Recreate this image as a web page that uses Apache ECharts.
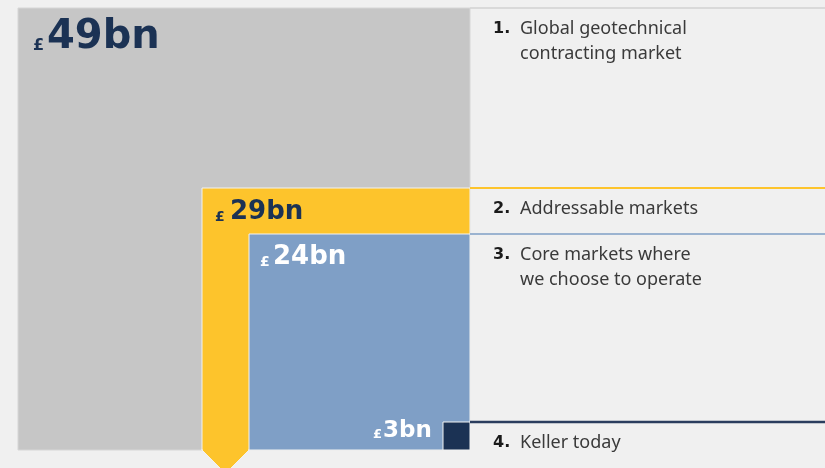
<!DOCTYPE html>
<html>
<head>
<meta charset="utf-8">
<script src="https://cdn.jsdelivr.net/npm/echarts@6/dist/echarts.min.js"></script>
<style>
html,body{margin:0;padding:0;background:#f0f0f0;}
#chart{width:825px;height:468px;}
</style>
</head>
<body>
<div id="chart"></div>
<script>
// Market tiers (nested boxes)
const categories = ['Global geotechnical\ncontracting market', 'Addressable markets', 'Core markets where\nwe choose to operate', 'Keller today'];
const tierNumbers = ['1.', '2.', '3.', '4.'];
const marketValues = [49, 29, 24, 3]; // £bn
// box extents in axis units (x: left edge, y: top edge; all boxes share right & bottom edge)
const boxLeft = [0, 184, 231, 425];
const boxTop = [442, 262, 216, 28];

const colors = ['#c6c6c6', '#fdc42c', '#7f9fc6', '#1b3254'];
const lineColors = ['#d2d2d2', '#fdc42c', '#7f9fc6', '#2a3d5e'];
const lineWidths = [1.5, 2, 1.5, 2.5];
const valueColors = ['#1b3254', '#1b3254', '#ffffff', '#ffffff'];
const numSize = [40, 26, 26, 23];
const poundSize = [16, 14, 14, 13];

const chart = echarts.init(document.getElementById('chart'));

function renderItem(params, api) {
  const i = params.dataIndex;
  const tl = api.coord([api.value(0), api.value(1)]);
  const br = api.coord([452, 0]);
  const x0 = tl[0], y0 = tl[1], x1 = br[0], y1 = br[1];
  const W = api.getWidth();
  const children = [];
  if (i === 1) {
    // downward arrow under the yellow strip
    const stripR = api.coord([boxLeft[2], 0])[0];
    children.push({
      type: 'polygon',
      shape: { points: [[x0, y1 - 1], [stripR, y1 - 1], [stripR, y1], [(x0 + stripR) / 2, y1 + (stripR - x0) / 2], [x0, y1]] },
      style: { fill: colors[i], stroke: '#f2f2f2', lineWidth: 1 }
    });
  }
  children.push({
    type: 'rect',
    shape: { x: x0, y: y0, width: x1 - x0, height: y1 - y0 },
    style: { fill: colors[i], stroke: i === 0 ? '#d6d6d6' : '#f2f2f2', lineWidth: 1 }
  });
  if (i === 1) {
    const stripR = api.coord([boxLeft[2], 0])[0];
    children.push({
      type: 'rect',
      shape: { x: x0 + 1, y: y1 - 2, width: stripR - x0 - 2, height: 3 },
      style: { fill: colors[i] }
    });
  }
  // right-side rule
  children.push({
    type: 'line',
    shape: { x1: x1, y1: y0, x2: W, y2: y0 },
    style: { stroke: lineColors[i], lineWidth: lineWidths[i] }
  });
  // value label
  const baseline = [52, 222, 267, 439][i] - [8, 188, 234, 422][i] + y0;
  const padP = [15, 13, 11, -70][i];
  const padN = [29, 28, 24, -60][i];
  children.push({
    type: 'text',
    style: {
      text: '£', x: x0 + padP, y: baseline - poundSize[i] * 0.36,
      fill: valueColors[i], font: 'bold ' + poundSize[i] + 'px "DejaVu Sans"',
      verticalAlign: 'middle', align: 'left'
    }
  });
  children.push({
    type: 'text',
    style: {
      text: marketValues[i] + 'bn', x: x0 + padN, y: baseline - numSize[i] * 0.36,
      fill: valueColors[i], font: 'bold ' + numSize[i] + 'px "DejaVu Sans"',
      verticalAlign: 'middle', align: 'left'
    }
  });
  // tier label
  children.push({
    type: 'text',
    style: {
      text: tierNumbers[i], x: x1 + 23, y: y0 + 21,
      fill: '#1a1a1a', font: 'bold 16px "DejaVu Sans"',
      verticalAlign: 'middle', align: 'left'
    }
  });
  children.push({
    type: 'text',
    style: {
      text: categories[i], x: x1 + 50, y: y0 + 8,
      fill: '#3a3a3a', font: '18px "Noto Sans"', lineHeight: 25,
      verticalAlign: 'top', align: 'left'
    }
  });
  return { type: 'group', children: children };
}

chart.setOption({
  backgroundColor: '#f0f0f0',
  animation: false,
  grid: { left: 18, top: 8, width: 452, height: 442 },
  xAxis: { type: 'value', min: 0, max: 452, show: false },
  yAxis: { type: 'value', min: 0, max: 442, show: false },
  series: [{
    type: 'custom',
    renderItem: renderItem,
    clip: false,
    data: boxLeft.map((l, i) => [l, boxTop[i], marketValues[i]])
  }]
});
</script>
</body>
</html>
